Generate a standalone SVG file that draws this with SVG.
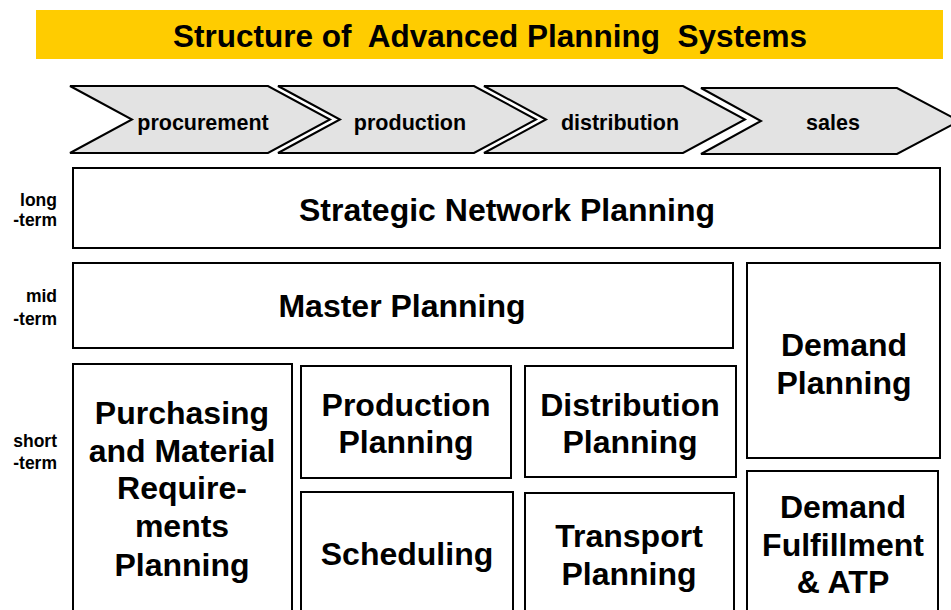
<svg xmlns="http://www.w3.org/2000/svg" width="951" height="610" viewBox="0 0 951 610">
<style>
.t{font-family:"Liberation Sans",Arial,sans-serif;font-weight:bold;fill:#000}
.big{font-size:32px;text-anchor:middle}
.chev{font-size:21.5px;text-anchor:middle}
.row{font-size:17.5px;text-anchor:end}
.box{fill:#fff;stroke:#000;stroke-width:2}
.arr{fill:#e3e3e3;stroke:#000;stroke-width:2;stroke-linejoin:miter}
</style>
<rect x="0" y="0" width="951" height="610" fill="#fff"/>
<g id="title">
<rect x="36" y="10" width="907" height="49" fill="#FFCC00"/>
<text class="t" x="490" y="47" font-size="31.5" text-anchor="middle" xml:space="preserve">Structure of  Advanced Planning  Systems</text>
</g>
<g id="chevrons">
<g id="procurement"><polygon class="arr" points="70,86 268,86 330,119.5 268,153 70,153 132,119.5"/><text class="t chev" x="203" y="129.5">procurement</text></g>
<g id="production"><polygon class="arr" points="278,86 474,86 536,119.5 474,153 278,153 340,119.5"/><text class="t chev" x="410" y="129.5">production</text></g>
<g id="distribution"><polygon class="arr" points="484,86 683,86 745,119.5 683,153 484,153 546,119.5"/><text class="t chev" x="620" y="129.5">distribution</text></g>
<g id="sales"><polygon class="arr" points="701,88 897,88 959,121 897,154 701,154 761,121"/><text class="t chev" x="833" y="129.5">sales</text></g>
</g>
<g id="rowlabels">
<text class="t row" x="57" y="206">long</text>
<text class="t row" x="57" y="226">-term</text>
<text class="t row" x="57" y="302">mid</text>
<text class="t row" x="57" y="325">-term</text>
<text class="t row" x="57" y="447">short</text>
<text class="t row" x="57" y="469">-term</text>
</g>
<g id="strategic"><rect class="box" x="73" y="168" width="867" height="80"/><text class="t big" x="507" y="221">Strategic Network Planning</text></g>
<g id="master"><rect class="box" x="73" y="263" width="660" height="85"/><text class="t big" x="402" y="317">Master Planning</text></g>
<g id="demandplanning"><rect class="box" x="747" y="263" width="193" height="195"/><text class="t big" x="844" y="356">Demand</text><text class="t big" x="844" y="394">Planning</text></g>
<g id="purchasing"><rect class="box" x="73" y="364" width="219" height="260"/>
<text class="t big" x="182" y="424">Purchasing</text>
<text class="t big" x="182" y="462">and Material</text>
<text class="t big" x="182" y="499">Require-</text>
<text class="t big" x="182" y="537">ments</text>
<text class="t big" x="182" y="576">Planning</text></g>
<g id="productionplanning"><rect class="box" x="301" y="366" width="210" height="112"/><text class="t big" x="406" y="416">Production</text><text class="t big" x="406" y="453">Planning</text></g>
<g id="distributionplanning"><rect class="box" x="525" y="366" width="211" height="111"/><text class="t big" x="630" y="416">Distribution</text><text class="t big" x="630" y="453">Planning</text></g>
<g id="scheduling"><rect class="box" x="301" y="492" width="212" height="130"/><text class="t big" x="407" y="565">Scheduling</text></g>
<g id="transport"><rect class="box" x="525" y="493" width="209" height="130"/><text class="t big" x="629" y="547">Transport</text><text class="t big" x="629" y="585">Planning</text></g>
<g id="fulfillment"><rect class="box" x="747" y="471" width="191" height="150"/><text class="t big" x="843" y="518">Demand</text><text class="t big" x="843" y="556">Fulfillment</text><text class="t big" x="843" y="593">&amp; ATP</text></g>
<g id="connectors"/>
</svg>
